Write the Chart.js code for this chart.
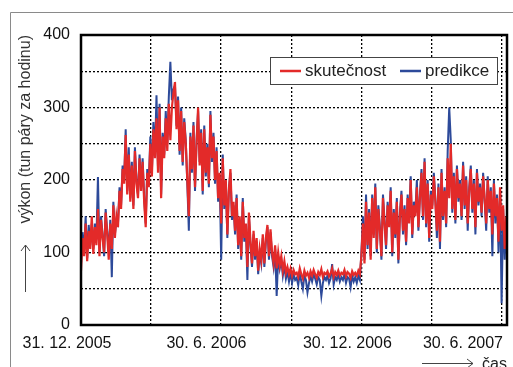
<!DOCTYPE html>
<html>
<head>
<meta charset="utf-8">
<script src="https://cdn.jsdelivr.net/npm/chart.js@4/dist/chart.umd.min.js"></script>
<style>
  html, body { margin: 0; padding: 0; background: #fff; }
  #wrap { position: relative; width: 513px; height: 367px; }
</style>
</head>
<body>
<div id="wrap"><canvas id="chart" width="513" height="367"></canvas></div>
<script>
// ==========================================
// Data (one value every 2 days, day 0 = 31. 12. 2005)
// ==========================================
const stepDays = 2;

const skutecnost = [
  75, 120, 95, 140, 88, 130, 105, 150, 98, 135,
  110, 160, 95, 145, 120, 100, 155, 125, 90, 140,
  105, 165, 120, 150, 135, 185, 160, 215, 195, 262,
  180, 235, 170, 220, 160, 240, 195, 175, 230, 185,
  225, 170, 135, 210, 190, 250, 205, 270, 230, 285,
  210, 300, 175, 260, 230, 285, 240, 305, 255, 300,
  320, 335, 270, 310, 240, 295, 225, 280, 250, 200,
  150, 260, 215, 275, 190, 250, 300, 220, 265, 185,
  270, 210, 245, 195, 290, 230, 260, 200, 240, 175,
  210, 140, 230, 165, 200, 125, 185, 215, 150, 170,
  130, 175, 110, 150, 95, 170, 120, 140, 80, 155,
  115, 85, 130, 95, 120, 75, 105, 90, 125, 85,
  120, 138, 95, 132, 100, 85, 110, 78, 100, 82,
  95, 75, 88, 72, 80, 70, 78, 68, 76, 70,
  72, 66, 78, 70, 64, 75, 68, 72, 65, 74,
  68, 76, 70, 65, 73, 69, 77, 66, 72, 70,
  74, 67, 71, 78, 66, 73, 69, 75, 68, 72,
  70, 76, 67, 73, 71, 65, 74, 69, 72, 68,
  75, 70, 95, 140, 85, 170, 110, 155, 90, 175,
  120, 190, 105, 160, 130, 95, 175, 140, 110, 165,
  135, 185, 100, 155, 125, 170, 90, 150, 180, 130,
  160, 115, 175, 140, 200, 125, 165, 150, 190, 135,
  175, 210, 150, 225, 140, 195, 120, 180, 160, 205,
  170, 130, 190, 115, 210, 150, 185, 140, 230, 175,
  250, 160, 205, 145, 215, 175, 195, 150, 220, 165,
  200, 140, 185, 215, 160, 195, 135, 210, 170, 190,
  155, 205, 175, 140, 200, 160, 185, 125, 195, 150,
  175, 115, 190, 130, 165, 105, 150
];

const predikce = [
  85, 128, 100, 150, 92, 138, 110, 140, 105, 140,
  118, 204, 100, 150, 125, 95, 160, 130, 100, 145,
  66, 170, 125, 145, 140, 190, 165, 220, 200, 270,
  185, 245, 175, 225, 165, 245, 200, 180, 235, 190,
  230, 175, 140, 215, 195, 260, 210, 280, 235, 317,
  215, 305, 180, 265, 235, 295, 250, 315, 363, 310,
  325, 330, 275, 315, 235, 300, 220, 285, 255, 195,
  130, 265, 210, 280, 185, 255, 295, 225, 270, 180,
  275, 205, 250, 190, 295, 225, 265, 195, 245, 170,
  205, 90, 235, 160, 195, 120, 190, 210, 145, 165,
  125, 180, 105, 145, 90, 175, 115, 135, 62, 150,
  110, 80, 125, 90, 115, 70, 100, 85, 120, 80,
  115, 135, 90, 128, 95, 80, 105, 40, 95, 78,
  90, 68, 82, 64, 74, 60, 72, 58, 70, 62,
  65, 55, 72, 60, 50, 68, 62, 45, 58, 68,
  60, 70, 64, 56, 66, 62, 40, 58, 66, 62,
  68, 58, 64, 84, 56, 66, 62, 70, 60, 66,
  62, 70, 58, 66, 64, 52, 68, 60, 66, 58,
  68, 62, 100, 150, 90, 180, 105, 160, 95, 180,
  125, 195, 100, 165, 135, 90, 180, 145, 105, 170,
  140, 190, 95, 160, 120, 175, 85, 155, 185, 125,
  165, 110, 180, 145, 205, 120, 170, 155, 200, 130,
  180, 215, 145, 230, 135, 200, 115, 185, 165, 210,
  175, 120, 195, 105, 215, 145, 190, 135, 240, 300,
  255, 155, 210, 140, 220, 170, 200, 145, 225, 160,
  205, 130, 190, 220, 155, 200, 125, 215, 165, 195,
  150, 210, 170, 130, 205, 155, 190, 95, 200, 140,
  180, 100, 185, 30, 160, 90, 145
];

// quarter grid lines (days from 31. 12. 2005) and the labelled ones
const gridDays = [0, 90, 181, 273, 364, 455, 546];
const labelDays = [0, 181, 364, 546];
const labelTexts = ['31. 12. 2005', '30. 6. 2006', '30. 12. 2006', '30. 6. 2007'];

const redColor = '#e32a29';
const blueColor = '#2d4a9a';
const fontFamily = "'Liberation Sans', Arial, sans-serif";

const toPoints = (arr) => arr.map((v, i) => ({ x: i * stepDays, y: v }));

// ==========================================
// Extra drawing: frames, x labels, arrows, legend box
// ==========================================
const decor = {
    id: 'decor',
    beforeDraw(chart) {
        const ctx = chart.ctx;
        ctx.save();
        ctx.strokeStyle = '#8a8a8a';
        ctx.lineWidth = 1;
        ctx.beginPath();
        ctx.moveTo(10.5, 367);
        ctx.lineTo(10.5, 12.5);
        ctx.lineTo(513, 12.5);
        ctx.stroke();
        ctx.restore();
    },
    afterDraw(chart) {
        const ctx = chart.ctx;
        const a = chart.chartArea;
        const xs = chart.scales.x;
        ctx.save();

        // thick plot frame
        ctx.strokeStyle = '#000';
        ctx.lineWidth = 2.5;
        ctx.strokeRect(a.left, a.top, a.right - a.left, a.bottom - a.top);

        // x tick labels (shifted left like the original)
        ctx.font = '16px ' + fontFamily;
        ctx.fillStyle = '#111';
        ctx.textBaseline = 'middle';
        ctx.textAlign = 'center';
        labelDays.forEach((d, i) => {
            const w = ctx.measureText(labelTexts[i]).width;
            let cx = xs.getPixelForValue(d) - 14;
            if (cx + w / 2 > 503) cx = 503 - w / 2;
            ctx.fillText(labelTexts[i], cx, a.bottom + 19);
        });

        // axis arrows
        ctx.strokeStyle = '#444';
        ctx.lineWidth = 1;
        ctx.beginPath();
        ctx.moveTo(25.5, a.bottom - 33);
        ctx.lineTo(25.5, a.bottom - 80);
        ctx.moveTo(21, a.bottom - 74);
        ctx.lineTo(25.5, a.bottom - 80);
        ctx.lineTo(30, a.bottom - 74);
        ctx.moveTo(422, 363.5);
        ctx.lineTo(473, 363.5);
        ctx.moveTo(467, 359);
        ctx.lineTo(473, 363.5);
        ctx.lineTo(467, 368);
        ctx.stroke();

        // legend box
        const bx = a.right - 237, by = a.top + 22, bw = 227, bh = 27;
        ctx.fillStyle = '#fff';
        ctx.fillRect(bx, by, bw, bh);
        ctx.strokeStyle = '#444';
        ctx.lineWidth = 1;
        ctx.strokeRect(bx + 0.5, by + 0.5, bw, bh);
        const items = [
            { x: bx + 10, ds: chart.data.datasets[0] },
            { x: bx + 130, ds: chart.data.datasets[1] }
        ];
        ctx.textAlign = 'left';
        ctx.font = '17px ' + fontFamily;
        items.forEach(it => {
            ctx.strokeStyle = it.ds.borderColor;
            ctx.lineWidth = 2.5;
            ctx.beginPath();
            ctx.moveTo(it.x, by + 14);
            ctx.lineTo(it.x + 21, by + 14);
            ctx.stroke();
            ctx.fillStyle = '#222';
            ctx.fillText(it.ds.label, it.x + 25, by + 14.5);
        });
        ctx.restore();
    }
};

// ==========================================
// Chart
// ==========================================
new Chart(document.getElementById('chart'), {
    type: 'line',
    data: {
        datasets: [{
            label: 'skutečnost',
            data: toPoints(skutecnost),
            borderColor: redColor,
            borderWidth: 2.2,
            pointRadius: 0,
            order: 0
        }, {
            label: 'predikce',
            data: toPoints(predikce),
            borderColor: blueColor,
            borderWidth: 2,
            pointRadius: 0,
            order: 1
        }]
    },
    options: {
        responsive: false,
        animation: false,
        layout: { padding: { top: 35, right: 6, left: 0, bottom: 0 } },
        plugins: {
            legend: { display: false },
            tooltip: { enabled: false }
        },
        scales: {
            x: {
                type: 'linear',
                min: 0,
                max: 553,
                afterBuildTicks: (s) => { s.ticks = gridDays.map(v => ({ value: v })); },
                afterFit: (s) => { s.height = 42; },
                grid: { color: '#000', lineWidth: 1.3, drawTicks: false },
                border: { display: false, dash: [2, 2] },
                ticks: { display: false },
                title: {
                    display: true,
                    text: 'čas',
                    align: 'end',
                    color: '#222',
                    font: { family: fontFamily, size: 16 },
                    padding: { top: 0, bottom: -7 }
                }
            },
            y: {
                min: 0,
                max: 400,
                afterFit: (s) => { s.width = 81; },
                grid: { color: '#000', lineWidth: 1.3, drawTicks: false },
                border: { display: false, dash: [2, 2] },
                ticks: {
                    stepSize: 50,
                    padding: 11,
                    color: '#111',
                    font: { family: fontFamily, size: 16 },
                    callback: (v) => (v % 100 === 0 ? v : '')
                },
                title: {
                    display: true,
                    text: 'výkon (tun páry za hodinu)',
                    align: 'end',
                    color: '#333',
                    font: { family: fontFamily, size: 16 },
                    padding: { top: 16, bottom: 0 }
                }
            }
        }
    },
    plugins: [decor]
});
</script>
</body>
</html>
